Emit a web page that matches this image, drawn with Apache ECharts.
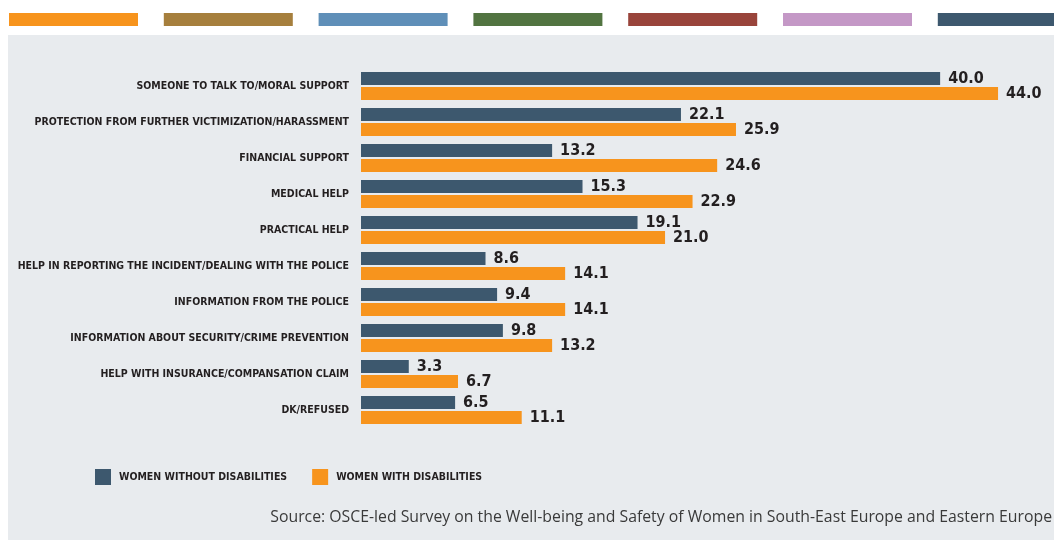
<!DOCTYPE html>
<html>
<head>
<meta charset="utf-8">
<title>Support wanted</title>
<script src="https://cdn.jsdelivr.net/npm/echarts@6/dist/echarts.min.js"></script>
<style>
    html, body {margin: 0; padding: 0; background: #fff;}
    #chart {width: 1054px; height: 540px;}
</style>
</head>
<body>
<div id="chart"></div>
<script>
// ///////////////////////////////////////////
// data
var categories = [
    'SOMEONE TO TALK TO/MORAL SUPPORT',
    'PROTECTION FROM FURTHER VICTIMIZATION/HARASSMENT',
    'FINANCIAL SUPPORT',
    'MEDICAL HELP',
    'PRACTICAL HELP',
    'HELP IN REPORTING THE INCIDENT/DEALING WITH THE POLICE',
    'INFORMATION FROM THE POLICE',
    'INFORMATION ABOUT SECURITY/CRIME PREVENTION',
    'HELP WITH INSURANCE/COMPANSATION CLAIM',
    'DK/REFUSED'
];
var withoutDisabilities = [40.0, 22.1, 13.2, 15.3, 19.1, 8.6, 9.4, 9.8, 3.3, 6.5];
var withDisabilities = [44.0, 25.9, 24.6, 22.9, 21.0, 14.1, 14.1, 13.2, 6.7, 11.1];
var seriesNames = ['WOMEN WITHOUT DISABILITIES', 'WOMEN WITH DISABILITIES'];
var sourceText = 'Source: OSCE-led Survey on the Well-being and Safety of Women in South-East Europe and Eastern Europe';

// decorative colour strip on top
var stripColors = ['#f7941d', '#a67f3d', '#5f8fb8', '#527441', '#99443b', '#c498c6', '#3d586e'];

var NAVY = '#3d586e';
var ORANGE = '#f7941d';
var TEXT = '#231f20';
// no narrow font in the sandbox, condensed DejaVu is the closest
var COND = '"DejaVu Sans Condensed", "DejaVu Sans", sans-serif';

// ///////////////////////////////////////////
// graphic bits (panel + strip + source)
var graphics = [{
    type: 'rect',
    z: -10,
    shape: {x: 8, y: 35, width: 1046, height: 505},
    style: {fill: '#e8ebee'}
}];
stripColors.forEach(function (c, i) {
    graphics.push({
        type: 'rect',
        z: -10,
        shape: {x: 9 + i * 154.8, y: 13, width: 129, height: 13},
        style: {fill: c}
    });
});
graphics.push({
    type: 'text',
    right: 2,
    top: 509,
    style: {
        text: sourceText,
        fill: '#3a3a3a',
        font: '15.8px "Open Sans", sans-serif'
    }
});

var valueLabel = {
    show: true,
    position: 'right',
    distance: 8,
    color: TEXT,
    fontFamily: COND,
    fontWeight: 'bold',
    fontSize: 16,
    formatter: function (p) {
        return p.value.toFixed(1);
    }
};

var chart = echarts.init(document.getElementById('chart'), null, {renderer: 'canvas'});
chart.setOption({
    animation: false,
    graphic: graphics,
    grid: {
        left: 361,
        top: 68,
        width: 666,
        height: 360,
        containLabel: false,
        outerBoundsMode: 'none'
    },
    legend: {
        data: seriesNames,
        left: 95,
        top: 469,
        padding: 0,
        itemWidth: 16,
        itemHeight: 16,
        itemGap: 25,
        icon: 'rect',
        textStyle: {
            color: TEXT,
            fontFamily: COND,
            fontWeight: 'bold',
            fontSize: 10.5,
            padding: [0, 0, 0, 3]
        }
    },
    xAxis: {
        type: 'value',
        min: 0,
        max: 46,
        show: false
    },
    yAxis: {
        type: 'category',
        inverse: true,
        data: categories,
        axisLine: {show: false},
        axisTick: {show: false},
        axisLabel: {
            margin: 12,
            color: TEXT,
            fontFamily: COND,
            fontWeight: 'bold',
            fontSize: 10.5
        }
    },
    series: [{
        name: seriesNames[0],
        type: 'bar',
        data: withoutDisabilities,
        barWidth: 13,
        barGap: '15%',
        itemStyle: {color: NAVY},
        label: valueLabel
    }, {
        name: seriesNames[1],
        type: 'bar',
        data: withDisabilities,
        barWidth: 13,
        itemStyle: {color: ORANGE},
        label: valueLabel
    }]
});
</script>
</body>
</html>
